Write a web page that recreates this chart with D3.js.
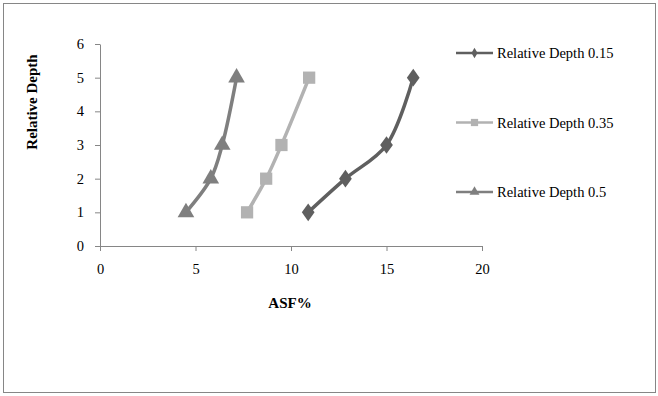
<!DOCTYPE html>
<html>
<head>
<meta charset="utf-8">
<script src="https://cdn.jsdelivr.net/npm/d3@7"></script>
<style>
  body { margin: 0; background: #fff; }
  svg { display: block; }
</style>
</head>
<body>
<div id="chart"></div>
<script>
// Data
const depths = [1, 2, 3, 5];
const asf015 = [10.9, 12.85, 15.0, 16.4];
const asf035 = [7.7, 8.7, 9.5, 10.95];
const asf05 = [4.5, 5.8, 6.4, 7.15];
const seriesNames = ["Relative Depth 0.15", "Relative Depth 0.35", "Relative Depth 0.5"];
const xTicks = [0, 5, 10, 15, 20];
const yTicks = [0, 1, 2, 3, 4, 5, 6];

const width = 658, height = 396;
const font = "'Liberation Serif', 'Times New Roman', serif";

const svg = d3.select("#chart").append("svg")
    .attr("width", width)
    .attr("height", height);

// outer frame
svg.append("rect")
    .attr("x", 3.5).attr("y", 3.5)
    .attr("width", 652).attr("height", 389)
    .attr("fill", "#fff")
    .attr("stroke", "#868686");

const x = d3.scaleLinear().domain([0, 20]).range([100, 482]);
const y = d3.scaleLinear().domain([0, 6]).range([246, 44]);

// axes
const xAxis = svg.append("g")
    .attr("transform", `translate(0,${y(0)})`)
    .call(d3.axisBottom(x).tickValues(xTicks).tickFormat(d3.format("d")).tickSize(5).tickPadding(13).tickSizeOuter(0));
const yAxis = svg.append("g")
    .attr("transform", `translate(${x(0)},0)`)
    .call(d3.axisLeft(y).tickValues(yTicks).tickFormat(d3.format("d")).tickSize(5).tickPadding(11).tickSizeOuter(0));

[xAxis, yAxis].forEach(g => {
    g.select(".domain").attr("stroke", "#868686");
    g.selectAll(".tick line").attr("stroke", "#868686");
    g.selectAll(".tick text")
        .attr("fill", "#000")
        .style("font-family", font)
        .style("font-size", "14.5px");
});

// axis titles
svg.append("text")
    .attr("x", 290).attr("y", 308)
    .attr("text-anchor", "middle")
    .style("font-family", font)
    .style("font-size", "15px")
    .style("font-weight", "bold")
    .text("ASF%");

svg.append("text")
    .attr("transform", `translate(37,102) rotate(-90)`)
    .attr("text-anchor", "middle")
    .style("font-family", font)
    .style("font-size", "15px")
    .style("font-weight", "bold")
    .text("Relative Depth");

const series = [
    { name: seriesNames[0], values: asf015, color: "#5f5f5f", symbol: d3.symbolDiamond, size: 90 },
    { name: seriesNames[1], values: asf035, color: "#b2b2b2", symbol: d3.symbolSquare, size: 150 },
    { name: seriesNames[2], values: asf05, color: "#7f7f7f", symbol: d3.symbolTriangle, size: 120 }
];

const line = d3.line()
    .x(d => x(d.x))
    .y(d => y(d.y))
    .curve(d3.curveCatmullRom.alpha(0.5));

series.forEach(s => {
    const pts = depths.map((d, i) => ({ x: s.values[i], y: d }));
    svg.append("path")
        .datum(pts)
        .attr("d", line)
        .attr("fill", "none")
        .attr("stroke", s.color)
        .attr("stroke-width", 3.5);

    svg.selectAll(null)
        .data(pts)
        .enter().append("path")
        .attr("d", d3.symbol().type(s.symbol).size(s.size))
        .attr("transform", d => `translate(${x(d.x)},${y(d.y)})` + (s.symbol === d3.symbolDiamond ? " scale(1.25,1)" : ""))
        .attr("fill", s.color);
});

// legend
const legend = svg.append("g");
series.forEach((s, i) => {
    const ly = 53 + i * 69.5;
    const g = legend.append("g").attr("transform", `translate(0,${ly})`);
    g.append("line")
        .attr("x1", 456).attr("x2", 493)
        .attr("y1", 0).attr("y2", 0)
        .attr("stroke", s.color)
        .attr("stroke-width", 2.5);
    g.append("path")
        .attr("d", d3.symbol().type(s.symbol).size(s.size * 0.35))
        .attr("transform", `translate(474.5,0)`)
        .attr("fill", s.color);
    g.append("text")
        .attr("x", 497).attr("y", 5)
        .style("font-family", font)
        .style("font-size", "14.5px")
        .attr("fill", "#000")
        .text(s.name);
});
</script>
</body>
</html>
